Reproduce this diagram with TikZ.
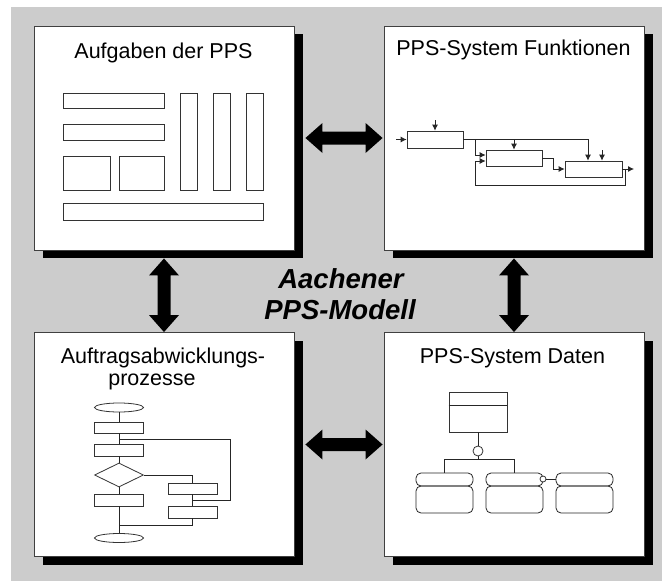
\documentclass[tikz,border=0pt]{standalone}
\usepackage{fontspec}
\setmainfont{Liberation Sans}
\usetikzlibrary{arrows.meta,calc,shapes.geometric}
\definecolor{bggray}{RGB}{204,204,204}
\newcommand\dblarrow[2]{%
  \path ($(#1)!17pt!(#2)$) coordinate (da) ($(#2)!17pt!(#1)$) coordinate (db);
  \fill (#1) -- ($(da)!15pt!90:(#2)$) -- ($(da)!6.5pt!90:(#2)$) -- ($(db)!6.5pt!-90:(#1)$)
    -- ($(db)!15pt!-90:(#1)$) -- (#2) -- ($(db)!15pt!90:(#1)$) -- ($(db)!6.5pt!90:(#1)$)
    -- ($(da)!6.5pt!-90:(#2)$) -- ($(da)!15pt!-90:(#2)$) -- cycle;}
\begin{document}
\begin{tikzpicture}[x=1pt,y=-1pt,
  panel/.style={draw=black!75, line width=0.9pt, fill=white, inner sep=0pt, minimum width=260pt, minimum height=224pt},
  title/.style={font=\fontsize{21.5}{25}\selectfont, anchor=base, inner sep=0pt},
  big/.style={font=\fontsize{27.5}{31}\selectfont\bfseries\itshape, anchor=base, inner sep=0pt},
  bx/.style={draw=black!80, line width=0.8pt, inner sep=0pt, fill=white},
  ln/.style={draw=black!85, line width=0.8pt},
  arr/.style={ln, -{Latex[length=6pt,width=6pt]}},
  rb/.style={draw=black!85, line width=0.8pt, rounded corners=5pt}
]
\useasboundingbox (0,0) rectangle (662,581);
\fill[bggray] (11,7) rectangle (662,581);

% panels
\foreach \n/\x/\y in {tl/164/138, tr/514/138, bl/164/444.5, br/514/444.5}{
  \fill ($(\x,\y)+(-121,-104)$) rectangle ($(\x,\y)+(139,120)$);
}
\node[panel] (tl) at (164,138) {};
\node[panel] (tr) at (514,138) {};
\node[panel] (bl) at (164,444.5) {};
\node[panel] (br) at (514,444.5) {};

% titles
\node[title] (ttl) at (163.5,58) {Aufgaben der PPS};
\node[title] (ttr) at (513.5,55) {PPS-System Funktionen};
\node[title] (tbl1) at (163,363) {Auftragsabwicklungs-};
\node[title] (tbl2) at (152,385) {prozesse};
\node[title] (tbr) at (512.5,363) {PPS-System Daten};

% centre text
\node[big] (c1) at (341,288) {Aachener};
\node[big] (c2) at (340,319) {PPS-Modell};

% big double arrows
\coordinate (h1a) at ($(tl.east)+(11,0)$);
\coordinate (h1b) at ($(tr.west)+(-1,0)$);
\coordinate (h2a) at ($(bl.east)+(11,0)$);
\coordinate (h2b) at ($(br.west)+(-1,0)$);
\coordinate (v1a) at ($(tl.south)+(0,8)$);
\coordinate (v1b) at ($(bl.north)+(0,0)$);
\coordinate (v2a) at ($(tr.south)+(0,8)$);
\coordinate (v2b) at ($(br.north)+(0,0)$);
\dblarrow{h1a}{h1b}
\dblarrow{h2a}{h2b}
\dblarrow{v1a}{v1b}
\dblarrow{v2a}{v2b}

% ---- TL: task boxes
\node[bx, minimum width=101pt, minimum height=15pt] (k1) at (113.5,100.5) {};
\node[bx, minimum width=101pt, minimum height=16pt] (k2) at (113.5,132) {};
\node[bx, minimum width=47pt, minimum height=34pt] (k3) at (86.5,173) {};
\node[bx, minimum width=45pt, minimum height=34pt] (k4) at (141.5,173) {};
\node[bx, minimum width=17pt, minimum height=97pt] (k5) at (188.5,141.5) {};
\node[bx, minimum width=17pt, minimum height=97pt] (k6) at (221.5,141.5) {};
\node[bx, minimum width=17pt, minimum height=97pt] (k7) at (254.5,141.5) {};
\node[bx, minimum width=200pt, minimum height=17pt] (k8) at (163,211.5) {};

% ---- TR: function diagram
\node[bx, minimum width=56pt, minimum height=17pt] (fa) at (435,139.5) {};
\node[bx, minimum width=56pt, minimum height=16pt] (fb) at (514,158) {};
\node[bx, minimum width=57pt, minimum height=16pt] (fc) at (593.5,169) {};
\coordinate (fin) at (396,139.5);
\coordinate (fatop) at (435,120);
\coordinate (fout) at (634,169);
\coordinate (fctop2) at (602,150);
\draw[arr] (fin) -- (fa.west);
\draw[arr] (fatop) -- (fa.north);
\draw[arr] (fa.east) -| ($(fc.north)+(-5.5,0)$);
\draw[arr] (fb.north |- fa.east) -- (fb.north);
\draw[arr] (475,139.5) |- ($(fb.west)+(0,-3)$);
\draw[arr] (625,169) -- (625,185) -| (475,161) -- ($(fb.west)+(0,3)$);
\draw[arr] (fc.east) -- (fout);
\draw[arr] (fb.east) -- (553,158) |- (fc.west);
\draw[arr] (fctop2) -- ($(fc.north)+(8.5,0)$);

% ---- BL: flowchart
\node[bx, ellipse, minimum width=49pt, minimum height=9pt] (e1) at (119,407.5) {};
\node[bx, minimum width=49pt, minimum height=11pt] (r1) at (119,427.5) {};
\node[bx, minimum width=49pt, minimum height=12pt] (r2) at (119,450) {};
\node[bx, diamond, minimum width=49pt, minimum height=24pt] (dd) at (119,475) {};
\node[bx, minimum width=49pt, minimum height=12pt] (r3) at (119,500) {};
\node[bx, ellipse, minimum width=49pt, minimum height=9pt] (e2) at (119,538) {};
\node[bx, minimum width=49pt, minimum height=11pt] (q1) at (192.5,488.5) {};
\node[bx, minimum width=49pt, minimum height=12pt] (q2) at (192.5,512) {};
\draw[ln] (e1) -- (r1) (r1) -- (r2) (r2) -- (dd) (dd) -- (r3) (r3) -- (e2);
\draw[ln] (119,439) -| (230,500) -- (q1.south |- 0,500);
\draw[ln] (dd.east) -| (q1.north);
\draw[ln] (q1) -- (q2);
\draw[ln] (q2.south) |- (119,525);

% ---- BR: data model
\node[bx, minimum width=58pt, minimum height=40pt] (ent) at (478,412) {};
\draw[ln] (ent.west |- 0,405) -- (ent.east |- 0,405);
\node[bx, circle, minimum size=10pt] (cc) at (478,451) {};
\draw[ln] (ent.south) -- (cc.north);
\draw[ln] (cc.south) -- (478,459);
\coordinate (j1) at (444.5,459);
\coordinate (j2) at (514.5,459);
\draw[ln] (j1) -- (j2);
\foreach \n/\x in {d1/416, d2/486, d3/556}{
  \draw[rb] (\x,473) rectangle ++(57,13);
  \draw[rb] (\x,486) rectangle ++(57,27);
  \coordinate (\n) at ($(\x,473)+(28.5,0)$);
}
\draw[ln] (j1) -- (d1);
\draw[ln] (j2) -- (d2);
\node[bx, circle, minimum size=6pt] (sc) at (543,479) {};
\draw[ln] (sc.east) -- (556,479);
\end{tikzpicture}
\end{document}
